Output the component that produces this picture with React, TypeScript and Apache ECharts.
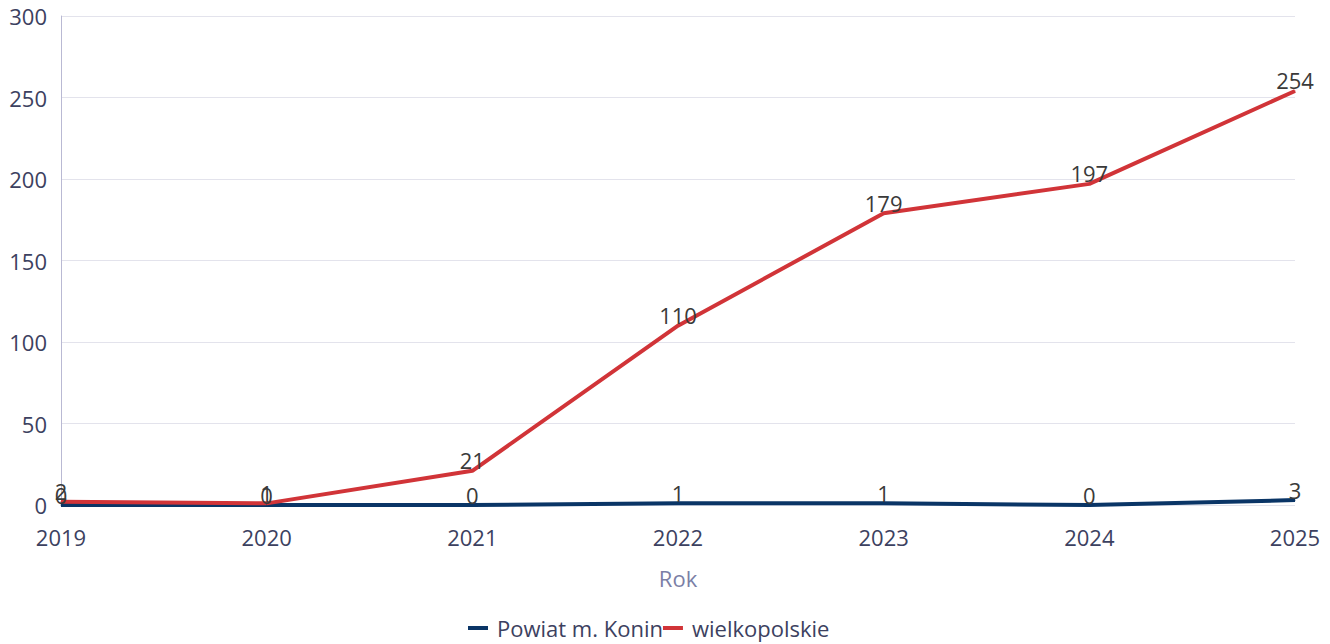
import React, { useEffect, useRef } from "react";
import * as echarts from "echarts";

const years = ["2019", "2020", "2021", "2022", "2023", "2024", "2025"];
const konin = [0, 0, 0, 1, 1, 0, 3];
const wielkopolskie = [2, 1, 21, 110, 179, 197, 254];
const seriesNames = ["Powiat m. Konin", "wielkopolskie"];
const colors = ["#0a3566", "#d13438"];

const FONT = "'Open Sans', 'Noto Sans', sans-serif";
const FS = 22;

export default function App() {
  const ref = useRef<HTMLDivElement>(null);

  useEffect(() => {
    if (!ref.current) return;
    const chart = echarts.init(ref.current, undefined, { renderer: "svg" });
    const labelStyle = {
      show: true,
      position: "top" as const,
      distance: -1,
      color: "#3a3a3a",
      fontSize: FS,
      fontFamily: FONT,
    };
    chart.setOption({
      animation: false,
      color: colors,
      textStyle: { fontFamily: FONT },
      grid: { left: 61, right: 35, top: 16, bottom: 139, containLabel: false },
      legend: {
        bottom: 5,
        left: 468,
        padding: 0,
        icon: "rect",
        itemWidth: 20,
        itemHeight: 4,
        itemGap: 0,
        textStyle: {
          color: "#3c4160",
          fontSize: FS,
          fontFamily: FONT,
          padding: [0, 0, 0, 4],
        },
        data: seriesNames,
      },
      xAxis: {
        type: "category",
        data: years,
        boundaryGap: false,
        name: "Rok",
        nameLocation: "middle",
        nameGap: 62,
        nameTextStyle: { color: "#7b7fa6", fontSize: FS, fontFamily: FONT },
        axisLine: { show: false },
        axisTick: { show: false },
        axisLabel: { color: "#3c4160", fontSize: FS, margin: 21, fontFamily: FONT },
        splitLine: { show: false },
      },
      yAxis: {
        type: "value",
        min: 0,
        max: 300,
        interval: 50,
        axisLine: { show: true, lineStyle: { color: "#b9b9d3", width: 1 } },
        axisTick: { show: false },
        axisLabel: { color: "#3c4160", fontSize: FS, margin: 14, fontFamily: FONT },
        splitLine: { show: true, lineStyle: { color: "#e3e3ec", width: 1 } },
      },
      series: [
        {
          name: seriesNames[0],
          type: "line",
          data: konin,
          symbol: "circle",
          symbolSize: 1,
          showSymbol: true,
          lineStyle: { width: 4, color: colors[0] },
          itemStyle: { color: colors[0] },
          label: labelStyle,
        },
        {
          name: seriesNames[1],
          type: "line",
          data: wielkopolskie,
          symbol: "circle",
          symbolSize: 1,
          showSymbol: true,
          lineStyle: { width: 4, color: colors[1] },
          itemStyle: { color: colors[1] },
          label: labelStyle,
        },
      ],
    });
    return () => chart.dispose();
  }, []);

  return (
    <div
      ref={ref}
      style={{ position: "absolute", left: 0, top: 0, width: 1330, height: 644 }}
    />
  );
}
